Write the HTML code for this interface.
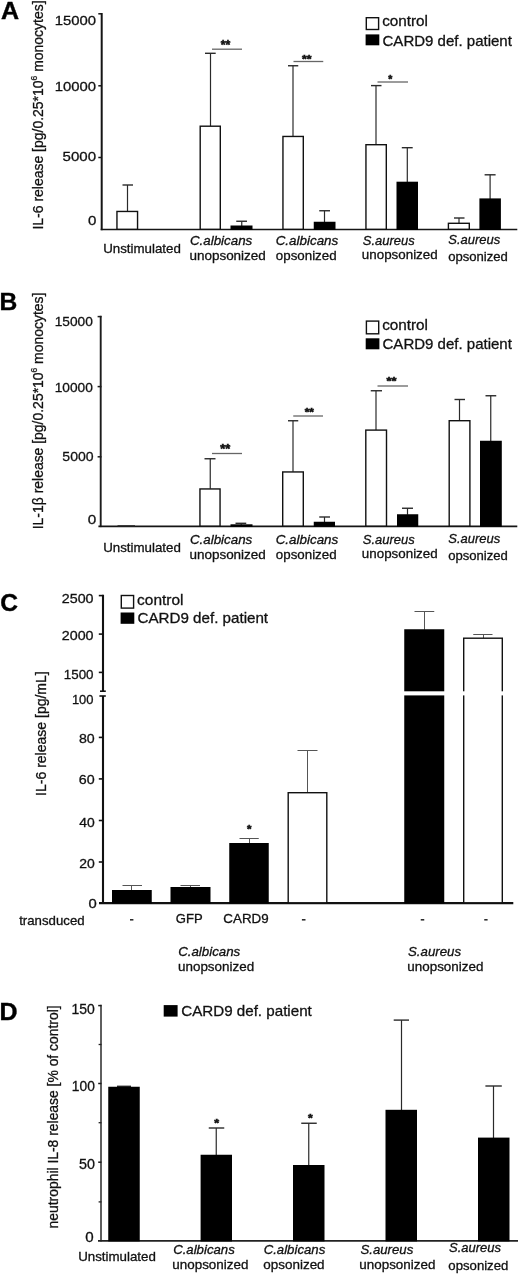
<!DOCTYPE html>
<html lang="en"><head><meta charset="utf-8"><title>CARD9 deficiency cytokine release figure</title>
<style>
html,body{margin:0;padding:0;background:#fff}
body{width:520px;height:1275px;overflow:hidden}
svg{display:block;font-family:"Liberation Sans",Arial,Helvetica,sans-serif}
</style></head><body>
<svg width="520" height="1275" viewBox="0 0 520 1275">
<rect width="520" height="1275" fill="#fff"/>
<text x="1.08" y="18.80" font-size="24" font-weight="bold" fill="#000" stroke="#000" stroke-width="0.4" textLength="18.08" lengthAdjust="spacingAndGlyphs">A</text>
<text transform="translate(43.10,228.30) rotate(-90)" x="-1.29" y="0" font-size="15.3" fill="#111" stroke="#111" stroke-width="0.3" textLength="229.19" lengthAdjust="spacingAndGlyphs">IL-6 release [pg/0.25*10<tspan font-size="9.18" dy="-5.81">6</tspan><tspan dy="5.81"> monocytes]</tspan></text>
<line x1="101.70" y1="13.00" x2="101.70" y2="230.20" stroke="#151515" stroke-width="2" stroke-linecap="butt"/>
<line x1="98.30" y1="13.80" x2="102.00" y2="13.80" stroke="#151515" stroke-width="1.5" stroke-linecap="butt"/>
<line x1="98.30" y1="85.80" x2="102.00" y2="85.80" stroke="#151515" stroke-width="1.5" stroke-linecap="butt"/>
<line x1="98.30" y1="157.50" x2="102.00" y2="157.50" stroke="#151515" stroke-width="1.5" stroke-linecap="butt"/>
<line x1="100.70" y1="229.50" x2="517.30" y2="229.50" stroke="#151515" stroke-width="1.7" stroke-linecap="butt"/>
<line x1="127.50" y1="185.00" x2="127.50" y2="211.25" stroke="#2a2a2a" stroke-width="1.2" stroke-linecap="butt"/>
<line x1="122.50" y1="185.00" x2="133.00" y2="185.00" stroke="#2a2a2a" stroke-width="1.4" stroke-linecap="butt"/>
<rect x="116.95" y="211.45" width="20.60" height="17.85" fill="#fff" stroke="#111" stroke-width="1.4"/>
<line x1="210.50" y1="53.30" x2="210.50" y2="126.00" stroke="#2a2a2a" stroke-width="1.2" stroke-linecap="butt"/>
<line x1="205.00" y1="53.30" x2="215.70" y2="53.30" stroke="#2a2a2a" stroke-width="1.4" stroke-linecap="butt"/>
<rect x="200.20" y="126.20" width="20.10" height="103.10" fill="#fff" stroke="#111" stroke-width="1.4"/>
<line x1="241.75" y1="221.25" x2="241.75" y2="226.00" stroke="#2a2a2a" stroke-width="1.2" stroke-linecap="butt"/>
<line x1="236.25" y1="221.25" x2="247.00" y2="221.25" stroke="#2a2a2a" stroke-width="1.4" stroke-linecap="butt"/>
<rect x="230.50" y="225.50" width="22.00" height="4.50" fill="#000"/>
<line x1="293.00" y1="65.75" x2="293.00" y2="136.25" stroke="#2a2a2a" stroke-width="1.2" stroke-linecap="butt"/>
<line x1="288.00" y1="65.75" x2="298.25" y2="65.75" stroke="#2a2a2a" stroke-width="1.4" stroke-linecap="butt"/>
<rect x="282.95" y="136.45" width="20.35" height="92.85" fill="#fff" stroke="#111" stroke-width="1.4"/>
<line x1="324.50" y1="210.75" x2="324.50" y2="222.25" stroke="#2a2a2a" stroke-width="1.2" stroke-linecap="butt"/>
<line x1="319.25" y1="210.75" x2="330.00" y2="210.75" stroke="#2a2a2a" stroke-width="1.4" stroke-linecap="butt"/>
<rect x="313.75" y="221.75" width="21.75" height="8.25" fill="#000"/>
<line x1="376.00" y1="85.60" x2="376.00" y2="144.50" stroke="#2a2a2a" stroke-width="1.2" stroke-linecap="butt"/>
<line x1="371.00" y1="85.60" x2="381.50" y2="85.60" stroke="#2a2a2a" stroke-width="1.4" stroke-linecap="butt"/>
<rect x="365.95" y="144.70" width="20.35" height="84.60" fill="#fff" stroke="#111" stroke-width="1.4"/>
<line x1="407.30" y1="147.70" x2="407.30" y2="182.20" stroke="#2a2a2a" stroke-width="1.2" stroke-linecap="butt"/>
<line x1="401.80" y1="147.70" x2="412.70" y2="147.70" stroke="#2a2a2a" stroke-width="1.4" stroke-linecap="butt"/>
<rect x="396.50" y="181.70" width="21.50" height="48.30" fill="#000"/>
<line x1="459.00" y1="218.00" x2="459.00" y2="223.10" stroke="#2a2a2a" stroke-width="1.2" stroke-linecap="butt"/>
<line x1="454.00" y1="218.00" x2="464.50" y2="218.00" stroke="#2a2a2a" stroke-width="1.4" stroke-linecap="butt"/>
<rect x="448.40" y="223.30" width="20.90" height="6.00" fill="#fff" stroke="#111" stroke-width="1.4"/>
<line x1="490.10" y1="174.80" x2="490.10" y2="198.90" stroke="#2a2a2a" stroke-width="1.2" stroke-linecap="butt"/>
<line x1="484.60" y1="174.80" x2="495.60" y2="174.80" stroke="#2a2a2a" stroke-width="1.4" stroke-linecap="butt"/>
<rect x="479.40" y="198.40" width="21.50" height="31.60" fill="#000"/>
<line x1="212.00" y1="49.20" x2="242.00" y2="49.20" stroke="#666" stroke-width="1.3" stroke-linecap="butt"/>
<text x="220.76" y="49.36" font-size="13.17" font-weight="bold" fill="#111" stroke="#111" stroke-width="0.6" textLength="9.55" lengthAdjust="spacingAndGlyphs">**</text>
<line x1="293.50" y1="61.50" x2="323.25" y2="61.50" stroke="#666" stroke-width="1.3" stroke-linecap="butt"/>
<text x="302.01" y="62.94" font-size="11.83" font-weight="bold" fill="#111" stroke="#111" stroke-width="0.6" textLength="9.45" lengthAdjust="spacingAndGlyphs">**</text>
<line x1="377.50" y1="82.00" x2="408.00" y2="82.00" stroke="#666" stroke-width="1.3" stroke-linecap="butt"/>
<text x="388.27" y="82.55" font-size="11.56" font-weight="bold" fill="#111" stroke="#111" stroke-width="0.6" textLength="4.04" lengthAdjust="spacingAndGlyphs">*</text>
<rect x="366.30" y="17.70" width="12.30" height="11.80" fill="#fff" stroke="#111" stroke-width="1.4"/>
<rect x="365.60" y="34.40" width="13.70" height="10.90" fill="#000"/>
<text x="382.15" y="26.30" font-size="15" fill="#111" stroke="#111" stroke-width="0.3" textLength="45.87" lengthAdjust="spacingAndGlyphs">control</text>
<text x="382.54" y="45.50" font-size="15" fill="#111" stroke="#111" stroke-width="0.3" textLength="129.37" lengthAdjust="spacingAndGlyphs">CARD9 def. patient</text>
<text x="54.77" y="25.10" font-size="13.6" fill="#111" stroke="#111" stroke-width="0.3" textLength="41.31" lengthAdjust="spacingAndGlyphs">15000</text>
<text x="54.77" y="91.30" font-size="13.6" fill="#111" stroke="#111" stroke-width="0.3" textLength="41.31" lengthAdjust="spacingAndGlyphs">10000</text>
<text x="62.60" y="160.90" font-size="13.6" fill="#111" stroke="#111" stroke-width="0.3" textLength="33.49" lengthAdjust="spacingAndGlyphs">5000</text>
<text x="88.01" y="224.60" font-size="13.6" fill="#111" stroke="#111" stroke-width="0.3" textLength="8.38" lengthAdjust="spacingAndGlyphs">0</text>
<text x="103.22" y="252.50" font-size="13" fill="#111" stroke="#111" stroke-width="0.3" textLength="77.63" lengthAdjust="spacingAndGlyphs">Unstimulated</text>
<text x="189.96" y="245.10" font-size="13" font-style="italic" fill="#111" stroke="#111" stroke-width="0.3" textLength="62.31" lengthAdjust="spacingAndGlyphs">C.albicans</text>
<text x="189.42" y="259.50" font-size="13" fill="#111" stroke="#111" stroke-width="0.3" textLength="76.44" lengthAdjust="spacingAndGlyphs">unopsonized</text>
<text x="275.66" y="245.10" font-size="13" font-style="italic" fill="#111" stroke="#111" stroke-width="0.3" textLength="62.61" lengthAdjust="spacingAndGlyphs">C.albicans</text>
<text x="275.84" y="259.50" font-size="13" fill="#111" stroke="#111" stroke-width="0.3" textLength="60.77" lengthAdjust="spacingAndGlyphs">opsonized</text>
<text x="362.83" y="244.80" font-size="13" font-style="italic" fill="#111" stroke="#111" stroke-width="0.3" textLength="51.83" lengthAdjust="spacingAndGlyphs">S.aureus</text>
<text x="361.83" y="259.10" font-size="13" fill="#111" stroke="#111" stroke-width="0.3" textLength="75.83" lengthAdjust="spacingAndGlyphs">unopsonized</text>
<text x="448.33" y="243.80" font-size="13" font-style="italic" fill="#111" stroke="#111" stroke-width="0.3" textLength="51.93" lengthAdjust="spacingAndGlyphs">S.aureus</text>
<text x="448.15" y="260.75" font-size="13" fill="#111" stroke="#111" stroke-width="0.3" textLength="59.69" lengthAdjust="spacingAndGlyphs">opsonized</text>
<text x="-0.45" y="309.80" font-size="24" font-weight="bold" fill="#000" stroke="#000" stroke-width="0.4" textLength="17.76" lengthAdjust="spacingAndGlyphs">B</text>
<text transform="translate(43.10,528.00) rotate(-90)" x="-1.29" y="0" font-size="15.3" fill="#111" stroke="#111" stroke-width="0.3" textLength="236.68" lengthAdjust="spacingAndGlyphs">IL-1β release [pg/0.25*10<tspan font-size="9.18" dy="-5.81">6</tspan><tspan dy="5.81"> monocytes]</tspan></text>
<line x1="100.70" y1="315.80" x2="100.70" y2="527.10" stroke="#1c1c1c" stroke-width="1.9" stroke-linecap="butt"/>
<line x1="97.60" y1="316.60" x2="101.50" y2="316.60" stroke="#1c1c1c" stroke-width="1.5" stroke-linecap="butt"/>
<line x1="97.60" y1="386.60" x2="101.50" y2="386.60" stroke="#1c1c1c" stroke-width="1.5" stroke-linecap="butt"/>
<line x1="97.60" y1="456.80" x2="101.50" y2="456.80" stroke="#1c1c1c" stroke-width="1.5" stroke-linecap="butt"/>
<line x1="98.40" y1="526.30" x2="517.30" y2="526.30" stroke="#151515" stroke-width="1.7" stroke-linecap="butt"/>
<rect x="117.50" y="525.10" width="17.50" height="1.20" fill="#333"/>
<line x1="210.25" y1="458.75" x2="210.25" y2="488.75" stroke="#2a2a2a" stroke-width="1.2" stroke-linecap="butt"/>
<line x1="204.50" y1="458.75" x2="215.50" y2="458.75" stroke="#2a2a2a" stroke-width="1.4" stroke-linecap="butt"/>
<rect x="199.95" y="488.95" width="20.10" height="37.15" fill="#fff" stroke="#111" stroke-width="1.4"/>
<line x1="241.25" y1="523.30" x2="241.25" y2="524.80" stroke="#2a2a2a" stroke-width="1.2" stroke-linecap="butt"/>
<line x1="235.50" y1="523.30" x2="246.25" y2="523.30" stroke="#2a2a2a" stroke-width="1.4" stroke-linecap="butt"/>
<rect x="230.50" y="524.30" width="22.00" height="2.50" fill="#000"/>
<line x1="293.00" y1="420.75" x2="293.00" y2="471.75" stroke="#2a2a2a" stroke-width="1.2" stroke-linecap="butt"/>
<line x1="288.00" y1="420.75" x2="298.25" y2="420.75" stroke="#2a2a2a" stroke-width="1.4" stroke-linecap="butt"/>
<rect x="282.70" y="471.95" width="20.60" height="54.15" fill="#fff" stroke="#111" stroke-width="1.4"/>
<line x1="324.50" y1="517.00" x2="324.50" y2="522.25" stroke="#2a2a2a" stroke-width="1.2" stroke-linecap="butt"/>
<line x1="319.25" y1="517.00" x2="330.00" y2="517.00" stroke="#2a2a2a" stroke-width="1.4" stroke-linecap="butt"/>
<rect x="313.75" y="521.75" width="21.25" height="5.05" fill="#000"/>
<line x1="376.00" y1="390.75" x2="376.00" y2="429.90" stroke="#2a2a2a" stroke-width="1.2" stroke-linecap="butt"/>
<line x1="370.75" y1="390.75" x2="382.00" y2="390.75" stroke="#2a2a2a" stroke-width="1.4" stroke-linecap="butt"/>
<rect x="365.80" y="430.10" width="20.70" height="96.00" fill="#fff" stroke="#111" stroke-width="1.4"/>
<line x1="407.50" y1="508.25" x2="407.50" y2="514.75" stroke="#2a2a2a" stroke-width="1.2" stroke-linecap="butt"/>
<line x1="402.00" y1="508.25" x2="413.00" y2="508.25" stroke="#2a2a2a" stroke-width="1.4" stroke-linecap="butt"/>
<rect x="397.00" y="514.25" width="21.25" height="12.55" fill="#000"/>
<line x1="459.50" y1="399.50" x2="459.50" y2="420.50" stroke="#2a2a2a" stroke-width="1.2" stroke-linecap="butt"/>
<line x1="454.50" y1="399.50" x2="465.00" y2="399.50" stroke="#2a2a2a" stroke-width="1.4" stroke-linecap="butt"/>
<rect x="449.20" y="420.70" width="20.70" height="105.40" fill="#fff" stroke="#111" stroke-width="1.4"/>
<line x1="490.75" y1="395.75" x2="490.75" y2="441.25" stroke="#2a2a2a" stroke-width="1.2" stroke-linecap="butt"/>
<line x1="485.50" y1="395.75" x2="496.25" y2="395.75" stroke="#2a2a2a" stroke-width="1.4" stroke-linecap="butt"/>
<rect x="480.00" y="440.75" width="21.80" height="86.05" fill="#000"/>
<line x1="212.00" y1="453.50" x2="242.00" y2="453.50" stroke="#666" stroke-width="1.3" stroke-linecap="butt"/>
<text x="220.26" y="453.32" font-size="12.09" font-weight="bold" fill="#111" stroke="#111" stroke-width="0.6" textLength="9.95" lengthAdjust="spacingAndGlyphs">**</text>
<line x1="293.25" y1="416.00" x2="323.00" y2="416.00" stroke="#666" stroke-width="1.3" stroke-linecap="butt"/>
<text x="304.77" y="415.64" font-size="11.83" font-weight="bold" fill="#111" stroke="#111" stroke-width="0.6" textLength="9.20" lengthAdjust="spacingAndGlyphs">**</text>
<line x1="377.50" y1="386.00" x2="408.00" y2="386.00" stroke="#666" stroke-width="1.3" stroke-linecap="butt"/>
<text x="386.51" y="385.44" font-size="11.83" font-weight="bold" fill="#111" stroke="#111" stroke-width="0.6" textLength="9.95" lengthAdjust="spacingAndGlyphs">**</text>
<rect x="366.40" y="321.10" width="12.30" height="12.70" fill="#fff" stroke="#111" stroke-width="1.4"/>
<rect x="365.70" y="338.30" width="13.70" height="11.00" fill="#000"/>
<text x="382.15" y="330.10" font-size="15" fill="#111" stroke="#111" stroke-width="0.3" textLength="45.87" lengthAdjust="spacingAndGlyphs">control</text>
<text x="382.54" y="348.90" font-size="15" fill="#111" stroke="#111" stroke-width="0.3" textLength="129.37" lengthAdjust="spacingAndGlyphs">CARD9 def. patient</text>
<text x="54.76" y="325.90" font-size="13.5" fill="#111" stroke="#111" stroke-width="0.3" textLength="38.08" lengthAdjust="spacingAndGlyphs">15000</text>
<text x="54.76" y="391.60" font-size="13.5" fill="#111" stroke="#111" stroke-width="0.3" textLength="38.08" lengthAdjust="spacingAndGlyphs">10000</text>
<text x="62.34" y="461.00" font-size="13.5" fill="#111" stroke="#111" stroke-width="0.3" textLength="31.21" lengthAdjust="spacingAndGlyphs">5000</text>
<text x="87.80" y="523.50" font-size="13.5" fill="#111" stroke="#111" stroke-width="0.3" textLength="8.49" lengthAdjust="spacingAndGlyphs">0</text>
<text x="103.22" y="551.50" font-size="13" fill="#111" stroke="#111" stroke-width="0.3" textLength="77.63" lengthAdjust="spacingAndGlyphs">Unstimulated</text>
<text x="189.96" y="543.80" font-size="13" font-style="italic" fill="#111" stroke="#111" stroke-width="0.3" textLength="62.31" lengthAdjust="spacingAndGlyphs">C.albicans</text>
<text x="189.42" y="558.50" font-size="13" fill="#111" stroke="#111" stroke-width="0.3" textLength="76.44" lengthAdjust="spacingAndGlyphs">unopsonized</text>
<text x="275.66" y="543.80" font-size="13" font-style="italic" fill="#111" stroke="#111" stroke-width="0.3" textLength="62.61" lengthAdjust="spacingAndGlyphs">C.albicans</text>
<text x="275.84" y="558.50" font-size="13" fill="#111" stroke="#111" stroke-width="0.3" textLength="60.77" lengthAdjust="spacingAndGlyphs">opsonized</text>
<text x="362.83" y="544.20" font-size="13" font-style="italic" fill="#111" stroke="#111" stroke-width="0.3" textLength="51.83" lengthAdjust="spacingAndGlyphs">S.aureus</text>
<text x="361.83" y="558.40" font-size="13" fill="#111" stroke="#111" stroke-width="0.3" textLength="75.83" lengthAdjust="spacingAndGlyphs">unopsonized</text>
<text x="448.33" y="543.00" font-size="13" font-style="italic" fill="#111" stroke="#111" stroke-width="0.3" textLength="51.93" lengthAdjust="spacingAndGlyphs">S.aureus</text>
<text x="448.15" y="559.60" font-size="13" fill="#111" stroke="#111" stroke-width="0.3" textLength="59.69" lengthAdjust="spacingAndGlyphs">opsonized</text>
<text x="0.19" y="610.50" font-size="24" font-weight="bold" fill="#000" stroke="#000" stroke-width="0.4" textLength="17.78" lengthAdjust="spacingAndGlyphs">C</text>
<text transform="translate(46.00,794.60) rotate(-90)" x="-1.29" y="0" font-size="14" fill="#111" stroke="#111" stroke-width="0.3" textLength="124.59" lengthAdjust="spacingAndGlyphs">IL-6 release [pg/mL]</text>
<line x1="103.00" y1="594.80" x2="103.00" y2="691.20" stroke="#111" stroke-width="2.1" stroke-linecap="butt"/>
<line x1="103.00" y1="696.00" x2="103.00" y2="903.80" stroke="#111" stroke-width="2.1" stroke-linecap="butt"/>
<line x1="98.80" y1="595.60" x2="103.50" y2="595.60" stroke="#111" stroke-width="1.6" stroke-linecap="butt"/>
<line x1="98.80" y1="634.10" x2="103.50" y2="634.10" stroke="#111" stroke-width="1.6" stroke-linecap="butt"/>
<line x1="98.80" y1="672.40" x2="103.50" y2="672.40" stroke="#111" stroke-width="1.6" stroke-linecap="butt"/>
<line x1="98.80" y1="737.40" x2="103.50" y2="737.40" stroke="#111" stroke-width="1.6" stroke-linecap="butt"/>
<line x1="98.80" y1="778.90" x2="103.50" y2="778.90" stroke="#111" stroke-width="1.6" stroke-linecap="butt"/>
<line x1="98.80" y1="820.50" x2="103.50" y2="820.50" stroke="#111" stroke-width="1.6" stroke-linecap="butt"/>
<line x1="98.80" y1="862.00" x2="103.50" y2="862.00" stroke="#111" stroke-width="1.6" stroke-linecap="butt"/>
<line x1="100.00" y1="691.20" x2="105.80" y2="691.20" stroke="#111" stroke-width="1.6" stroke-linecap="butt"/>
<line x1="99.40" y1="696.00" x2="105.80" y2="696.00" stroke="#111" stroke-width="1.6" stroke-linecap="butt"/>
<line x1="99.00" y1="903.10" x2="513.30" y2="903.10" stroke="#111" stroke-width="2.2" stroke-linecap="butt"/>
<line x1="131.50" y1="885.50" x2="131.50" y2="890.50" stroke="#555" stroke-width="1.0" stroke-linecap="butt"/>
<line x1="122.50" y1="885.50" x2="142.00" y2="885.50" stroke="#555" stroke-width="1.0" stroke-linecap="butt"/>
<rect x="112.00" y="890.00" width="39.75" height="13.50" fill="#000"/>
<line x1="190.50" y1="885.50" x2="190.50" y2="887.50" stroke="#555" stroke-width="1.0" stroke-linecap="butt"/>
<line x1="180.50" y1="885.50" x2="200.00" y2="885.50" stroke="#555" stroke-width="1.0" stroke-linecap="butt"/>
<rect x="170.50" y="887.00" width="40.00" height="16.50" fill="#000"/>
<line x1="249.50" y1="838.50" x2="249.50" y2="843.50" stroke="#555" stroke-width="1.0" stroke-linecap="butt"/>
<line x1="239.50" y1="838.50" x2="258.75" y2="838.50" stroke="#555" stroke-width="1.0" stroke-linecap="butt"/>
<rect x="229.25" y="843.00" width="39.50" height="60.50" fill="#000"/>
<text x="247.02" y="833.44" font-size="11.83" font-weight="bold" fill="#111" stroke="#111" stroke-width="0.6" textLength="4.44" lengthAdjust="spacingAndGlyphs">*</text>
<line x1="307.50" y1="750.50" x2="307.50" y2="792.50" stroke="#555" stroke-width="1.0" stroke-linecap="butt"/>
<line x1="297.50" y1="750.50" x2="317.50" y2="750.50" stroke="#555" stroke-width="1.0" stroke-linecap="butt"/>
<rect x="288.20" y="792.70" width="38.60" height="110.10" fill="#fff" stroke="#111" stroke-width="1.4"/>
<line x1="424.50" y1="611.50" x2="424.50" y2="629.75" stroke="#555" stroke-width="1.0" stroke-linecap="butt"/>
<line x1="414.50" y1="611.50" x2="434.25" y2="611.50" stroke="#555" stroke-width="1.0" stroke-linecap="butt"/>
<rect x="404.25" y="629.25" width="40.00" height="274.25" fill="#000"/>
<line x1="483.50" y1="634.50" x2="483.50" y2="638.00" stroke="#555" stroke-width="1.0" stroke-linecap="butt"/>
<line x1="473.25" y1="634.50" x2="492.50" y2="634.50" stroke="#555" stroke-width="1.0" stroke-linecap="butt"/>
<rect x="463.70" y="638.20" width="38.60" height="264.60" fill="#fff" stroke="#111" stroke-width="1.4"/>
<rect x="400.00" y="691.30" width="107.00" height="4.10" fill="#fff"/>
<rect x="121.30" y="595.50" width="12.30" height="12.60" fill="#fff" stroke="#111" stroke-width="1.4"/>
<rect x="120.60" y="612.50" width="13.70" height="11.30" fill="#000"/>
<text x="137.14" y="604.50" font-size="15" fill="#111" stroke="#111" stroke-width="0.3" textLength="46.39" lengthAdjust="spacingAndGlyphs">control</text>
<text x="137.53" y="623.30" font-size="15" fill="#111" stroke="#111" stroke-width="0.3" textLength="130.58" lengthAdjust="spacingAndGlyphs">CARD9 def. patient</text>
<text x="61.78" y="603.00" font-size="13.3" fill="#111" stroke="#111" stroke-width="0.3" textLength="31.78" lengthAdjust="spacingAndGlyphs">2500</text>
<text x="61.78" y="639.80" font-size="13.3" fill="#111" stroke="#111" stroke-width="0.3" textLength="31.78" lengthAdjust="spacingAndGlyphs">2000</text>
<text x="63.78" y="678.50" font-size="13.3" fill="#111" stroke="#111" stroke-width="0.3" textLength="29.74" lengthAdjust="spacingAndGlyphs">1500</text>
<text x="71.91" y="704.10" font-size="13.3" fill="#111" stroke="#111" stroke-width="0.3" textLength="21.59" lengthAdjust="spacingAndGlyphs">100</text>
<text x="78.98" y="743.30" font-size="13.3" fill="#111" stroke="#111" stroke-width="0.3" textLength="15.77" lengthAdjust="spacingAndGlyphs">80</text>
<text x="78.87" y="784.00" font-size="13.3" fill="#111" stroke="#111" stroke-width="0.3" textLength="15.88" lengthAdjust="spacingAndGlyphs">60</text>
<text x="79.28" y="826.70" font-size="13.3" fill="#111" stroke="#111" stroke-width="0.3" textLength="15.46" lengthAdjust="spacingAndGlyphs">40</text>
<text x="79.20" y="867.50" font-size="13.3" fill="#111" stroke="#111" stroke-width="0.3" textLength="15.55" lengthAdjust="spacingAndGlyphs">20</text>
<text x="88.62" y="907.50" font-size="13.3" fill="#111" stroke="#111" stroke-width="0.3" textLength="8.26" lengthAdjust="spacingAndGlyphs">0</text>
<text x="19.20" y="924.50" font-size="13" fill="#111" stroke="#111" stroke-width="0.3" textLength="65.40" lengthAdjust="spacingAndGlyphs">transduced</text>
<text x="175.84" y="923.25" font-size="13" fill="#111" stroke="#111" stroke-width="0.3" textLength="26.85" lengthAdjust="spacingAndGlyphs">GFP</text>
<text x="223.32" y="923.10" font-size="13" fill="#111" stroke="#111" stroke-width="0.3" textLength="45.31" lengthAdjust="spacingAndGlyphs">CARD9</text>
<line x1="130.00" y1="919.80" x2="133.40" y2="919.80" stroke="#222" stroke-width="1.5" stroke-linecap="butt"/>
<line x1="301.90" y1="919.80" x2="305.50" y2="919.80" stroke="#222" stroke-width="1.5" stroke-linecap="butt"/>
<line x1="420.75" y1="919.80" x2="424.25" y2="919.80" stroke="#222" stroke-width="1.5" stroke-linecap="butt"/>
<line x1="484.25" y1="919.80" x2="487.60" y2="919.80" stroke="#222" stroke-width="1.5" stroke-linecap="butt"/>
<text x="178.17" y="956.00" font-size="13" font-style="italic" fill="#111" stroke="#111" stroke-width="0.3" textLength="62.11" lengthAdjust="spacingAndGlyphs">C.albicans</text>
<text x="178.03" y="970.50" font-size="13" fill="#111" stroke="#111" stroke-width="0.3" textLength="76.09" lengthAdjust="spacingAndGlyphs">unopsonized</text>
<text x="408.03" y="956.25" font-size="13" font-style="italic" fill="#111" stroke="#111" stroke-width="0.3" textLength="53.00" lengthAdjust="spacingAndGlyphs">S.aureus</text>
<text x="407.33" y="970.50" font-size="13" fill="#111" stroke="#111" stroke-width="0.3" textLength="76.03" lengthAdjust="spacingAndGlyphs">unopsonized</text>
<text x="-0.47" y="1020.40" font-size="24" font-weight="bold" fill="#000" stroke="#000" stroke-width="0.4" textLength="18.02" lengthAdjust="spacingAndGlyphs">D</text>
<text transform="translate(57.70,1227.50) rotate(-90)" x="-0.92" y="0" font-size="14" fill="#111" stroke="#111" stroke-width="0.3" textLength="223.01" lengthAdjust="spacingAndGlyphs">neutrophil IL-8 release [% of control]</text>
<line x1="101.00" y1="1004.80" x2="101.00" y2="1241.60" stroke="#2a2a2a" stroke-width="1.5" stroke-linecap="butt"/>
<line x1="98.20" y1="1005.60" x2="101.50" y2="1005.60" stroke="#1a1a1a" stroke-width="1.5" stroke-linecap="butt"/>
<line x1="98.20" y1="1083.50" x2="101.50" y2="1083.50" stroke="#1a1a1a" stroke-width="1.5" stroke-linecap="butt"/>
<line x1="98.20" y1="1162.20" x2="101.50" y2="1162.20" stroke="#1a1a1a" stroke-width="1.5" stroke-linecap="butt"/>
<line x1="98.60" y1="1044.50" x2="101.50" y2="1044.50" stroke="#222" stroke-width="1.3" stroke-linecap="butt"/>
<line x1="98.60" y1="1122.70" x2="101.50" y2="1122.70" stroke="#222" stroke-width="1.3" stroke-linecap="butt"/>
<line x1="98.60" y1="1201.90" x2="101.50" y2="1201.90" stroke="#222" stroke-width="1.3" stroke-linecap="butt"/>
<line x1="98.00" y1="1240.90" x2="518.00" y2="1240.90" stroke="#222" stroke-width="1.6" stroke-linecap="butt"/>
<line x1="124.00" y1="1086.30" x2="124.00" y2="1087.25" stroke="#2a2a2a" stroke-width="1.2" stroke-linecap="butt"/>
<line x1="117.00" y1="1086.30" x2="131.00" y2="1086.30" stroke="#2a2a2a" stroke-width="1.4" stroke-linecap="butt"/>
<rect x="108.25" y="1086.75" width="31.50" height="154.65" fill="#000"/>
<line x1="216.25" y1="1128.00" x2="216.25" y2="1155.25" stroke="#2a2a2a" stroke-width="1.2" stroke-linecap="butt"/>
<line x1="208.75" y1="1128.00" x2="224.25" y2="1128.00" stroke="#2a2a2a" stroke-width="1.4" stroke-linecap="butt"/>
<rect x="200.60" y="1154.75" width="31.40" height="86.65" fill="#000"/>
<text x="214.26" y="1126.94" font-size="11.83" font-weight="bold" fill="#111" stroke="#111" stroke-width="0.6" textLength="4.85" lengthAdjust="spacingAndGlyphs">*</text>
<line x1="308.75" y1="1123.25" x2="308.75" y2="1165.50" stroke="#2a2a2a" stroke-width="1.2" stroke-linecap="butt"/>
<line x1="301.25" y1="1123.25" x2="316.75" y2="1123.25" stroke="#2a2a2a" stroke-width="1.4" stroke-linecap="butt"/>
<rect x="293.00" y="1165.00" width="31.50" height="76.40" fill="#000"/>
<text x="308.01" y="1121.91" font-size="11.42" font-weight="bold" fill="#111" stroke="#111" stroke-width="0.6" textLength="4.70" lengthAdjust="spacingAndGlyphs">*</text>
<line x1="401.50" y1="1020.10" x2="401.50" y2="1110.30" stroke="#2a2a2a" stroke-width="1.2" stroke-linecap="butt"/>
<line x1="393.70" y1="1020.10" x2="409.00" y2="1020.10" stroke="#2a2a2a" stroke-width="1.4" stroke-linecap="butt"/>
<rect x="385.50" y="1109.80" width="31.50" height="131.60" fill="#000"/>
<line x1="493.50" y1="1086.00" x2="493.50" y2="1138.10" stroke="#2a2a2a" stroke-width="1.2" stroke-linecap="butt"/>
<line x1="485.40" y1="1086.00" x2="501.80" y2="1086.00" stroke="#2a2a2a" stroke-width="1.4" stroke-linecap="butt"/>
<rect x="478.00" y="1137.60" width="31.50" height="103.80" fill="#000"/>
<rect x="163.70" y="1005.10" width="13.90" height="11.50" fill="#000"/>
<text x="181.23" y="1016.00" font-size="15" fill="#111" stroke="#111" stroke-width="0.3" textLength="130.58" lengthAdjust="spacingAndGlyphs">CARD9 def. patient</text>
<text x="71.54" y="1014.25" font-size="14" fill="#111" stroke="#111" stroke-width="0.3" textLength="23.31" lengthAdjust="spacingAndGlyphs">150</text>
<text x="71.85" y="1091.25" font-size="14" fill="#111" stroke="#111" stroke-width="0.3" textLength="22.99" lengthAdjust="spacingAndGlyphs">100</text>
<text x="78.93" y="1169.25" font-size="14" fill="#111" stroke="#111" stroke-width="0.3" textLength="15.93" lengthAdjust="spacingAndGlyphs">50</text>
<text x="85.16" y="1242.00" font-size="14" fill="#111" stroke="#111" stroke-width="0.3" textLength="8.43" lengthAdjust="spacingAndGlyphs">0</text>
<text x="78.22" y="1261.25" font-size="13" fill="#111" stroke="#111" stroke-width="0.3" textLength="77.63" lengthAdjust="spacingAndGlyphs">Unstimulated</text>
<text x="173.17" y="1253.75" font-size="13" font-style="italic" fill="#111" stroke="#111" stroke-width="0.3" textLength="61.60" lengthAdjust="spacingAndGlyphs">C.albicans</text>
<text x="172.33" y="1268.75" font-size="13" fill="#111" stroke="#111" stroke-width="0.3" textLength="76.03" lengthAdjust="spacingAndGlyphs">unopsonized</text>
<text x="263.67" y="1253.75" font-size="13" font-style="italic" fill="#111" stroke="#111" stroke-width="0.3" textLength="61.60" lengthAdjust="spacingAndGlyphs">C.albicans</text>
<text x="263.34" y="1268.75" font-size="13" fill="#111" stroke="#111" stroke-width="0.3" textLength="61.28" lengthAdjust="spacingAndGlyphs">opsonized</text>
<text x="360.53" y="1253.75" font-size="13" font-style="italic" fill="#111" stroke="#111" stroke-width="0.3" textLength="52.74" lengthAdjust="spacingAndGlyphs">S.aureus</text>
<text x="359.33" y="1268.75" font-size="13" fill="#111" stroke="#111" stroke-width="0.3" textLength="76.03" lengthAdjust="spacingAndGlyphs">unopsonized</text>
<text x="449.03" y="1252.10" font-size="13" font-style="italic" fill="#111" stroke="#111" stroke-width="0.3" textLength="51.98" lengthAdjust="spacingAndGlyphs">S.aureus</text>
<text x="448.35" y="1270.30" font-size="13" fill="#111" stroke="#111" stroke-width="0.3" textLength="60.00" lengthAdjust="spacingAndGlyphs">opsonized</text>
</svg>
</body></html>
